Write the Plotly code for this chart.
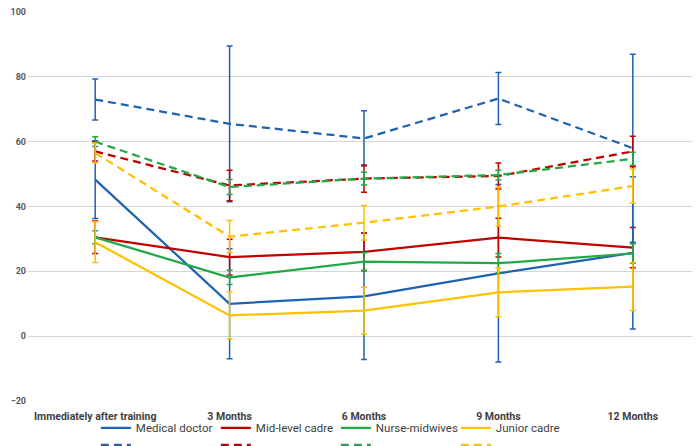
import plotly.graph_objects as go

categories = ["Immediately after training", "3 Months", "6 Months", "9 Months", "12 Months"]

cadres = ["Medical doctor", "Mid-level cadre", "Nurse-midwives", "Junior cadre"]
colors = ["#1F63B0", "#C00000", "#22A845", "#FFC000"]

# solid series (values and +/- error)
md_solid = [48.3, 10.0, 12.3, 19.4, 25.7]
md_solid_err = [12.0, 17.0, 19.5, 27.4, 23.5]
mid_solid = [30.5, 24.4, 26.0, 30.4, 27.3]
mid_solid_err = [5.0, 5.5, 5.8, 6.0, 6.2]
nurse_solid = [30.5, 18.1, 23.0, 22.5, 25.5]
nurse_solid_err = [2.0, 2.2, 2.7, 3.0, 3.0]
junior_solid = [29.0, 6.4, 7.9, 13.5, 15.3]
junior_solid_err = [6.3, 7.3, 7.2, 7.5, 7.4]

# dashed series
md_dash = [73.0, 65.5, 61.0, 73.3, 58.0]
md_dash_err = [6.3, 24.0, 8.5, 8.0, 29.0]
mid_dash = [57.0, 46.5, 48.6, 49.4, 57.0]
mid_dash_err = [3.0, 4.7, 4.2, 4.0, 4.7]
nurse_dash = [60.0, 46.0, 48.6, 49.7, 54.7]
nurse_dash_err = [1.5, 2.3, 2.0, 1.5, 2.0]
junior_dash = [56.5, 30.7, 35.0, 40.0, 46.3]
junior_dash_err = [3.0, 5.0, 5.3, 6.0, 5.3]

y_ticks = [-20, 0, 20, 40, 60, 80, 100]

solid = [(md_solid, md_solid_err), (mid_solid, mid_solid_err),
         (nurse_solid, nurse_solid_err), (junior_solid, junior_solid_err)]
dashed = [(md_dash, md_dash_err), (mid_dash, mid_dash_err),
          (nurse_dash, nurse_dash_err), (junior_dash, junior_dash_err)]

fig = go.Figure()
for i, (vals, err) in enumerate(solid):
    fig.add_trace(go.Scatter(
        x=categories, y=vals, mode="lines", name=cadres[i],
        line=dict(color=colors[i], width=2.25),
        error_y=dict(type="data", array=err, color=colors[i], thickness=1.5, width=3),
        legend="legend",
    ))
for i, (vals, err) in enumerate(dashed):
    fig.add_trace(go.Scatter(
        x=categories, y=vals, mode="lines", name=" ",
        line=dict(color=colors[i], width=2.25, dash="8px,5px"),
        error_y=dict(type="data", array=err, color=colors[i], thickness=1.5, width=3),
        legend="legend2",
    ))

# the page body has an 8px margin, so the figure is sized 692x438
leg_font = dict(family="Roboto, sans-serif", size=11.5, color="#404040")
fig.update_layout(
    template="none",
    width=692, height=438,
    margin=dict(l=20, r=0, t=4, b=45, autoexpand=False),
    paper_bgcolor="white", plot_bgcolor="white",
    showlegend=True,
    legend=dict(orientation="h", x=0.101, xanchor="left", y=-0.0694, yanchor="middle",
                entrywidth=75, font=leg_font, bgcolor="rgba(0,0,0,0)"),
    legend2=dict(orientation="h", x=0.101, xanchor="left", y=-0.113, yanchor="middle",
                 entrywidth=75, font=leg_font, bgcolor="rgba(0,0,0,0)"),
)
fig.update_xaxes(
    type="category", range=[-0.5, 4.5], showgrid=False, showline=False, ticks="",
    zeroline=False, automargin=False, ticklabelstandoff=7, ticklabeloverflow="allow",
    tickfont=dict(family="Roboto, sans-serif", size=10.5, color="#404040", weight="bold"),
)
fig.update_yaxes(
    range=[-20, 100], tickvals=y_ticks, showgrid=True, gridcolor="#D6D6D6", gridwidth=1,
    zeroline=False, showline=False, ticks="", ticklabelstandoff=1, automargin=False,
    ticklabeloverflow="allow",
    tickfont=dict(family="Roboto, sans-serif", size=9, color="#595959", weight="bold"),
)

fig.write_html("out.html")
